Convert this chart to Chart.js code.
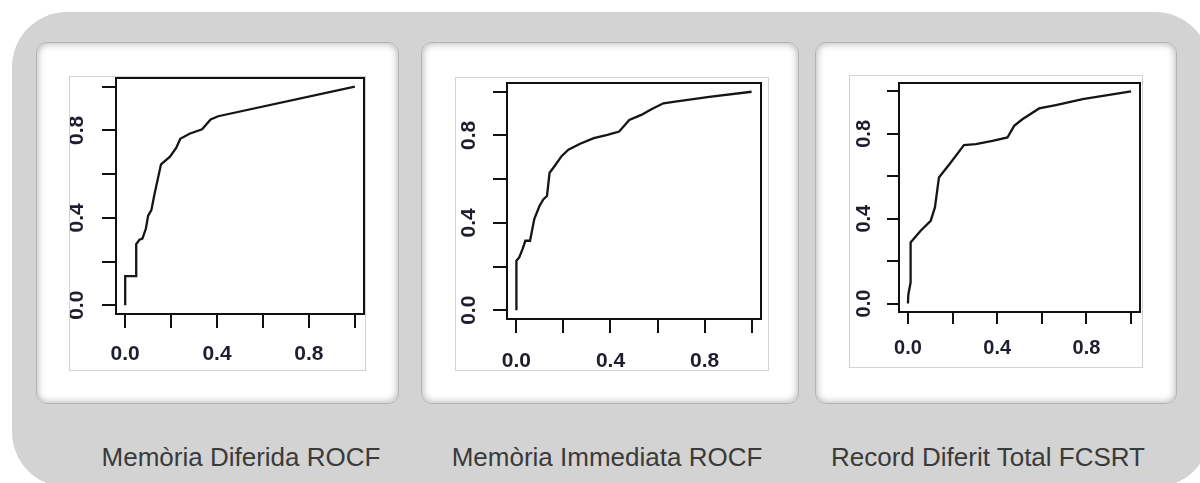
<!DOCTYPE html>
<html>
<head>
<meta charset="utf-8">
<script src="https://cdn.jsdelivr.net/npm/chart.js@4.4.1/dist/chart.umd.min.js"></script>
<style>
  html, body { margin: 0; padding: 0; background: #fff; width: 1200px; height: 483px; overflow: hidden; position: relative; font-family: "Liberation Sans", Arial, sans-serif; }
  .bg { position: absolute; left: 12px; top: 12px; width: 1198px; height: 475px; background: #d3d3d3; border-radius: 55px; }
  .card { position: absolute; top: 42px; height: 362px; background: #fff; border-radius: 11px; border: 1px solid #b3b3b3; box-sizing: border-box; box-shadow: inset 0 0 7px 1px rgba(0,0,0,0.28); }
  .frame { position: absolute; border: 1px solid #d2d2d2; background: #fff; box-sizing: border-box; }
  .frame div { position: relative; width: 100%; height: 100%; }
  .frame canvas { filter: blur(0.3px); }
  .cap { position: absolute; top: 444px; font-size: 26px; line-height: 26px; color: #3a3a3a; white-space: nowrap; transform: translateX(-50%); }
</style>
</head>
<body>
<div class="bg"></div>

<div class="card" style="left:36px;width:363px"></div>
<div class="card" style="left:421px;width:378px"></div>
<div class="card" style="left:815px;width:362px"></div>

<div class="frame" style="left:69px;top:76px;width:297px;height:295px"><div><canvas id="roc1"></canvas></div></div>
<div class="frame" style="left:455px;top:77px;width:314px;height:294px"><div><canvas id="roc2"></canvas></div></div>
<div class="frame" style="left:849px;top:75px;width:294px;height:293px"><div><canvas id="roc3"></canvas></div></div>

<div class="cap" id="cap1" style="left:241px"></div>
<div class="cap" id="cap2" style="left:607px"></div>
<div class="cap" id="cap3" style="left:988px"></div>

<script>
// axis ticks (R draws a tick every 0.2 but only labels 0.0 / 0.4 / 0.8)
const tickValues = [0, 0.2, 0.4, 0.6, 0.8, 1.0];
const labelledTicks = [0, 0.4, 0.8];
const titles = ['Memòria Diferida ROCF', 'Memòria Immediata ROCF', 'Record Diferit Total FCSRT'];

// ROC curves: false positive rate (x) / sensitivity (y)
const diferidaX = [0, 0, 0.048, 0.048, 0.062, 0.075, 0.09, 0.1, 0.114, 0.128, 0.156, 0.195, 0.222, 0.24, 0.28, 0.335, 0.372, 0.405, 1.0];
const diferidaY = [0, 0.133, 0.133, 0.28, 0.30, 0.305, 0.35, 0.41, 0.435, 0.51, 0.645, 0.68, 0.72, 0.762, 0.785, 0.805, 0.85, 0.865, 1.0];

const immediataX = [0, 0, 0.012, 0.026, 0.038, 0.058, 0.076, 0.098, 0.115, 0.13, 0.141, 0.162, 0.192, 0.221, 0.271, 0.329, 0.387, 0.437, 0.48, 0.531, 0.574, 0.625, 0.675, 0.82, 1.0];
const immediataY = [0, 0.227, 0.242, 0.28, 0.318, 0.318, 0.417, 0.477, 0.508, 0.523, 0.629, 0.659, 0.705, 0.735, 0.762, 0.788, 0.803, 0.818, 0.871, 0.894, 0.92, 0.947, 0.955, 0.977, 1.0];

const fcsrtX = [0, 0.002, 0.012, 0.012, 0.057, 0.102, 0.121, 0.139, 0.192, 0.251, 0.304, 0.379, 0.446, 0.476, 0.513, 0.588, 0.663, 0.783, 1.0];
const fcsrtY = [0, 0.044, 0.099, 0.288, 0.343, 0.39, 0.453, 0.594, 0.665, 0.747, 0.752, 0.767, 0.783, 0.838, 0.869, 0.92, 0.936, 0.964, 1.0];

const boxPlugin = {
  id: 'rbox',
  afterDatasetsDraw(chart) {
    const { ctx, chartArea: a } = chart;
    ctx.save();
    ctx.strokeStyle = '#111';
    ctx.lineWidth = 2;
    ctx.strokeRect(a.left, a.top, a.right - a.left, a.bottom - a.top);
    ctx.restore();
  }
};

function tickLabel(value) {
  return labelledTicks.some(v => Math.abs(v - value) < 1e-6) ? value.toFixed(1) : '';
}

function setTicks(scale) {
  scale.ticks = tickValues.map(v => ({ value: v }));
}

// fixed axis size, and no extra room for overhanging labels
function fitAxis(size) {
  return s => {
    if (s.isHorizontal()) s.height = size; else s.width = size;
    s.paddingTop = 0; s.paddingBottom = 0; s.paddingLeft = 0; s.paddingRight = 0;
  };
}

function rocChart(id, xs, ys, o) {
  const ctx = document.getElementById(id).getContext('2d');
  const font = { family: '"Liberation Sans", Arial, sans-serif', size: o.font, weight: 'bold' };
  return new Chart(ctx, {
    type: 'scatter',
    data: {
      datasets: [{
        data: xs.map((x, i) => ({ x: x, y: ys[i] })),
        showLine: true,
        borderColor: '#151515',
        borderWidth: 2.3,
        pointRadius: 0,
        tension: 0
      }]
    },
    options: {
      responsive: true,
      maintainAspectRatio: false,
      animation: false,
      events: [],
      layout: { padding: { top: o.top, right: o.right, left: 0, bottom: 0 } },
      plugins: { legend: { display: false }, tooltip: { enabled: false } },
      scales: {
        x: {
          type: 'linear',
          min: -0.04,
          max: 1.04,
          afterBuildTicks: setTicks,
          afterFit: fitAxis(o.xh),
          border: { display: false },
          grid: { drawOnChartArea: false, drawTicks: true, tickLength: o.tl, color: '#111', lineWidth: 2 },
          ticks: { callback: tickLabel, padding: o.xpad, maxRotation: 0, autoSkip: false, color: '#1d1f2e', font: font }
        },
        y: {
          type: 'linear',
          min: -0.04,
          max: 1.04,
          afterBuildTicks: setTicks,
          afterFit: fitAxis(o.yw),
          border: { display: false },
          grid: { drawOnChartArea: false, drawTicks: true, tickLength: o.tl, color: '#111', lineWidth: 2 },
          ticks: { callback: tickLabel, padding: o.ypad, minRotation: 90, maxRotation: 90, crossAlign: 'center', autoSkip: false, color: '#1d1f2e', font: font }
        }
      }
    },
    plugins: [boxPlugin]
  });
}

rocChart('roc1', diferidaX, diferidaY, { top: 1, right: 1, yw: 46, xh: 56, tl: 14, font: 21, xpad: 14, ypad: 10 });
rocChart('roc2', immediataX, immediataY, { top: 5, right: 7, yw: 51, xh: 51, tl: 14, font: 21, xpad: 16, ypad: 9 });
rocChart('roc3', fcsrtX, fcsrtY, { top: 7, right: 2, yw: 49, xh: 55, tl: 12, font: 20, xpad: 12, ypad: 9 });

titles.forEach((t, i) => { document.getElementById('cap' + (i + 1)).textContent = t; });
</script>
</body>
</html>
